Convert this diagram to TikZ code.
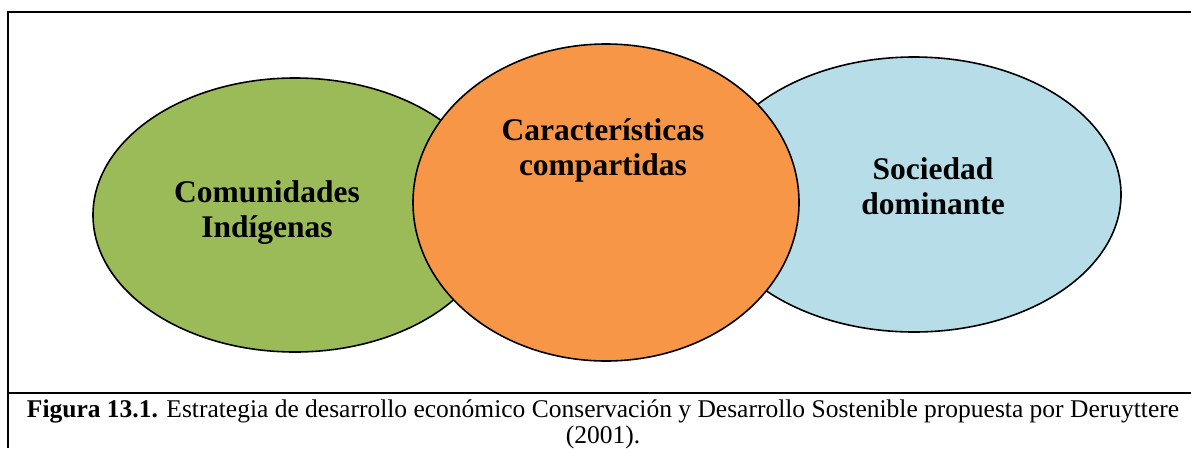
\documentclass[tikz,border=0pt]{standalone}
\usepackage{fontspec}
\setmainfont{Liberation Serif}
\usepackage{xcolor}
\usetikzlibrary{shapes.geometric,positioning}

\definecolor{venngreen}{HTML}{9BBB59}
\definecolor{vennorange}{HTML}{F79646}
\definecolor{vennblue}{HTML}{B7DDE8}

\begin{document}
\begin{tikzpicture}[
  x=1pt, y=-1pt,
  blob/.style={ellipse, draw=black, line width=1.6pt, inner sep=0pt},
  label/.style={align=center, font=\fontsize{31.5}{35}\selectfont\bfseries},
  frame/.style={line width=2pt}
]
\useasboundingbox (0,0) rectangle (1191,448);

% frame and caption rule
\draw[frame] (8,448) -- (8,12) -- (1195,12);
\draw[frame] (8,393) -- (1195,393);

% the three circles
\node[blob, fill=venngreen, minimum width=404pt, minimum height=274pt] (indig) at (295,215) {};
\node[blob, fill=vennblue, minimum width=414pt, minimum height=275pt] (dom) at (914,194.5) {};
\node[blob, fill=vennorange, minimum width=386pt, minimum height=317pt] (shared) at (606,202.5) {};

\node[label] (indigtext) at (267,213) {Comunidades\\Indígenas};
\node[label] (sharedtext) at (603,150) {Características\\compartidas};
\node[label] (domtext) at (933,186) {Sociedad\\dominante};

\node[align=center, font=\fontsize{25.5}{26}\selectfont] (caption) at (603,424)
  {\textbf{Figura 13.1.} Estrategia de desarrollo económico Conservación y Desarrollo Sostenible propuesta por Deruyttere\\(2001).};
\end{tikzpicture}
\end{document}
